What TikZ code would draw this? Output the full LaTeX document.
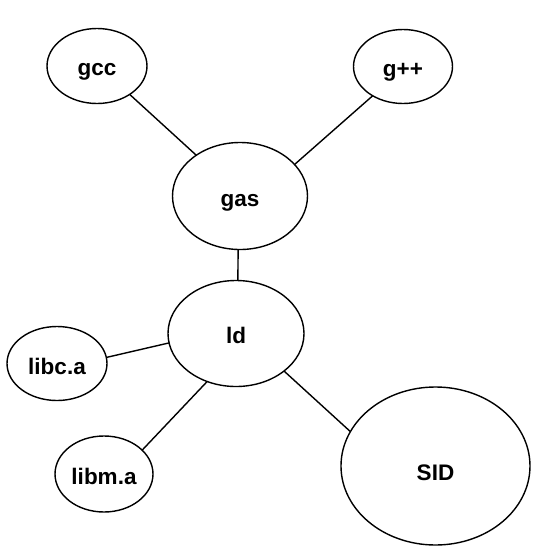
\documentclass[tikz,border=0pt]{standalone}
\usepackage{fontspec}
\setmainfont{Liberation Sans}
\usetikzlibrary{shapes.geometric}
\begin{document}
\begin{tikzpicture}[x=1pt,y=-1pt,
  ell/.style={ellipse,draw,line width=1.4pt,inner sep=0pt,outer sep=0pt,
    text height=19pt,text depth=0pt,
    font=\fontsize{22.5}{27}\selectfont\bfseries},
  link/.style={line width=1.4pt}]
\useasboundingbox (0,0) rectangle (542,550);
\node[ell,minimum width=100pt,minimum height=75pt] (gcc) at (97,66) {gcc};
\node[ell,minimum width=99pt,minimum height=74pt] (gpp) at (403,66.5) {g++};
\node[ell,minimum width=135pt,minimum height=107pt,text height=21pt] (gas) at (240,196) {gas};
\node[ell,minimum width=136pt,minimum height=106pt] (ld) at (236,333.5) {ld};
\node[ell,minimum width=100pt,minimum height=74pt,text height=21pt] (libc) at (57,363.5) {libc.a};
\node[ell,minimum width=98pt,minimum height=76pt,text height=20pt] (libm) at (104,474) {libm.a};
\node[ell,minimum width=189pt,minimum height=158pt,text height=28pt] (sid) at (435.5,466) {SID};
\draw[link] (gcc.319) -- (gas.137);
\draw[link] (gpp.224) -- (gas.30);
\draw[link] (gas.268) -- (ld.88);
\draw[link] (libc.7) -- (ld.188);
\draw[link] (libm.32) -- (ld.239);
\draw[link] (ld.322) -- (sid.158);
\end{tikzpicture}
\end{document}
